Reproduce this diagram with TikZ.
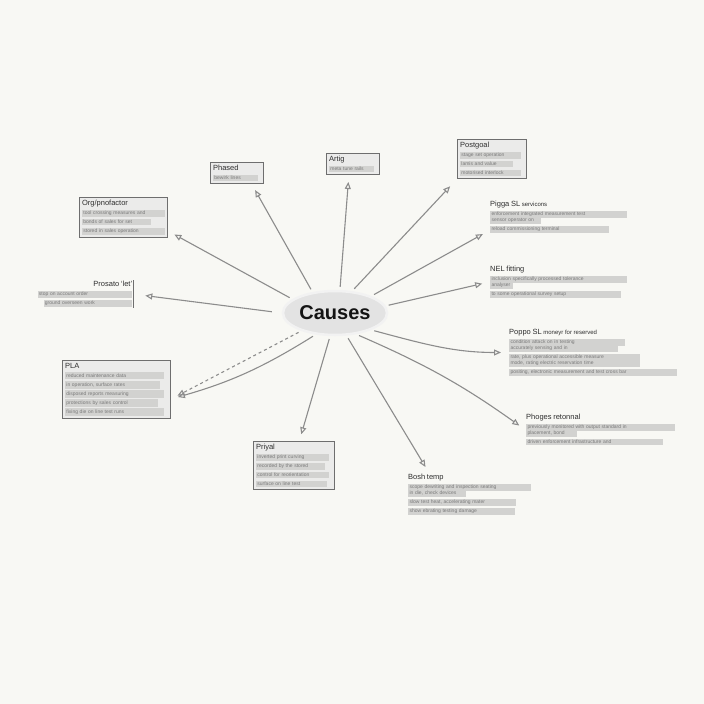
\documentclass[tikz,border=0pt]{standalone}
\usepackage{fontspec}
\setmainfont{Liberation Sans}
\usetikzlibrary{arrows.meta,positioning,calc,shapes.geometric}
\definecolor{cbgrnd}{HTML}{F8F8F4}
\definecolor{cedge}{HTML}{6E6E6E}
\definecolor{cfill}{HTML}{EBEBEA}
\definecolor{cbar}{HTML}{D2D2D0}
\definecolor{carrow}{HTML}{8C8C8C}
\definecolor{ctext}{HTML}{2E2E2E}
\definecolor{cbody}{HTML}{7A7A7A}
\setlength{\fboxsep}{1.3pt}
\newcommand{\glin}[2]{\colorbox{cbar}{\makebox[#1][l]{\textcolor{cbody}{#2}}}}
\newcommand{\ttl}[1]{{\fontsize{7.5}{9}\selectfont #1}}

\begin{document}
\begin{tikzpicture}[
  x=1pt, y=-1pt,
  hub/.style={
    ellipse, draw=black!5, line width=2.5pt, fill=black!11,
    font=\fontsize{20}{21}\selectfont\bfseries, text=black!92,
    minimum width=104pt, minimum height=44pt, inner sep=0pt},
  card/.style={
    draw=cedge, line width=1.2pt, fill=cfill, anchor=north west,
    align=left, inner sep=2.5pt, text=ctext,
    font=\fontsize{5}{9}\selectfont},
  note/.style={
    anchor=north west, align=left, inner sep=1pt, text=ctext,
    font=\fontsize{5}{9}\selectfont},
  arrow/.style={-{Triangle[open, length=7pt, width=6pt]}, carrow,
    line width=1.1pt, shorten <=3pt, shorten >=7pt},
  darrow/.style={arrow, dashed},
]

  %% ---- Canvas ----
  \fill[cbgrnd] (0,0) rectangle (704,704);
  \useasboundingbox (0,0) rectangle (704,704);

  %% ---- Hub ----
  \node[hub] (causes) at (335,313) {Causes};

  %% ---- Framed cards ----
  \node[card, text width=48pt] (phased) at (210,162)
    {\ttl{Phased}\\ \glin{42pt}{bewirk lines}};
  \node[card, text width=48pt] (artig) at (326,153)
    {\ttl{Artig}\\ \glin{42pt}{meta tune rails}};
  \node[card, text width=64pt] (postgoal) at (457,139)
    {\ttl{Postgoal}\\ \glin{58pt}{stage set operation}\\ \glin{50pt}{lamis and value}\\ \glin{58pt}{motorised interlock}};
  \node[card, text width=83pt] (org) at (79,197)
    {\ttl{Org/pnofactor}\\ \glin{80pt}{tool crossing measures and}\\ \glin{66pt}{bonds of sales for set}\\ \glin{80pt}{stored in sales operation}};
  \node[card, text width=103pt] (pla) at (62,360)
    {\ttl{PLA}\\ \glin{96pt}{reduced maintenance data}\\ \glin{92pt}{in operation, surface rates}\\ \glin{96pt}{disposed reports measuring}\\ \glin{90pt}{protections by sales control}\\ \glin{96pt}{fixing die on line test runs}};
  \node[card, text width=76pt] (priyal) at (253,441)
    {\ttl{Priyal}\\ \glin{70pt}{inverted print curving}\\ \glin{66pt}{recorded by the stored}\\ \glin{70pt}{control for reorientation}\\ \glin{68pt}{surface on line test}};

  %% ---- Open notes ----
  \node[note, text width=97pt, align=right] (prosato) at (34,280)
    {\ttl{Prosato `let'}\\ \glin{92pt}{stop on account order}\\ \glin{86pt}{ground overseen work}};
  \draw[cedge, line width=1.2pt] (prosato.north east) -- (prosato.south east);
  \node[note, text width=123pt] (bosh) at (407,473)
    {\ttl{Bosh temp}\\ \glin{120pt}{scope dewriting and inspection seating}\\[-3pt] \glin{55pt}{in die, check devices}\\ \glin{105pt}{slow test heat, accelerating mater}\\ \glin{104pt}{show ebrating testing damage}};
  \node[note, text width=151pt] (phoges) at (525,413)
    {\ttl{Phoges retonnal}\\ \glin{146pt}{previously monitored with output standard in}\\[-3pt] \glin{48pt}{placement, bond}\\ \glin{134pt}{driven enforcement infrastructure and}};
  \node[note, text width=168pt] (poppo) at (508,328)
    {\ttl{Poppo SL} {\fontsize{6}{7}\selectfont moneyr for reserved}\\ \glin{113pt}{condition attack on in testing}\\[-3pt] \glin{106pt}{accurately sensing and in}\\ \glin{128pt}{rate, plus operational accessible measure}\\[-3pt] \glin{128pt}{mode, rating electric reservation time}\\ \glin{165pt}{positing, electronic measurement and test cross bar}};
  \node[note, text width=137pt] (nel) at (489,265)
    {\ttl{NEL fitting}\\ \glin{134pt}{inclusion specifically processed tolerance}\\[-3pt] \glin{20pt}{analyser}\\ \glin{128pt}{to some operational survey setup}};
  \node[note, text width=137pt] (pigga) at (489,200)
    {\ttl{Pigga SL} {\fontsize{6}{7}\selectfont servicons}\\ \glin{134pt}{enforcement integrated measurement test}\\[-3pt] \glin{48pt}{sensor operator on}\\ \glin{116pt}{reload commissioning terminal}};

  %% ---- Spokes ----
  \draw[arrow] (causes.137) -- (phased.-37);
  \draw[arrow] (causes.78)  -- (artig.-111);
  \draw[arrow, shorten >=10pt] (causes.52) -- (postgoal.south west);
  \draw[arrow] (causes.25)  -- (pigga.191);
  \draw[arrow] (causes.8)   -- (nel.west);
  \draw[arrow] (causes.-25) to[out=-15, in=180] (poppo.west);
  \draw[arrow] (causes.-45) to[bend left=6] (phoges.west);
  \draw[arrow] (causes.-63) -- (bosh.152);
  \draw[arrow] (causes.-102) -- (priyal.78);
  \draw[darrow] (causes.-152) -- (pla.-10);
  \draw[arrow] (causes.-132) to[bend left=8] (pla.-10);
  \draw[arrow, shorten <=10pt, shorten >=12pt] (causes.180) -- (prosato.east);
  \draw[arrow] (causes.162) -- (org.-17);

\end{tikzpicture}
\end{document}
